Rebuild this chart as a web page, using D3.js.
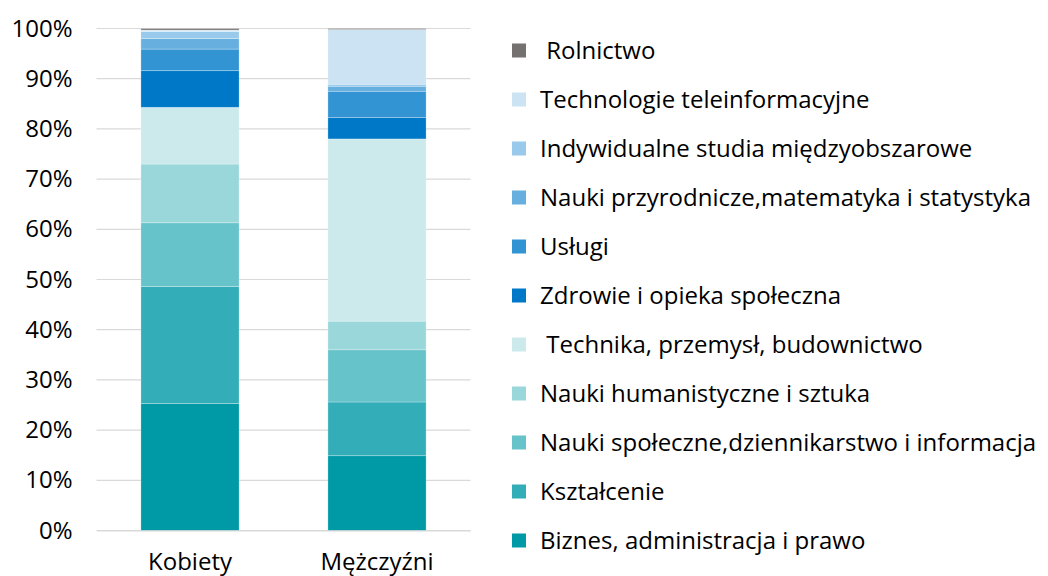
<!DOCTYPE html>
<html>
<head>
<meta charset="utf-8">
<script src="https://cdn.jsdelivr.net/npm/d3@7"></script>
<style>
  body { margin: 0; background: #fff; }
  svg text { font-family: "Open Sans", "Noto Sans", sans-serif; fill: #000; white-space: pre; }
</style>
</head>
<body>
<div id="chart"></div>
<script>
// categories on the x axis
var groups = ["Kobiety", "Mężczyźni"];

// fields of study, bottom of the stack first
var fields = [
	"Biznes, administracja i prawo",
	"Kształcenie",
	"Nauki społeczne,dziennikarstwo i informacja",
	"Nauki humanistyczne i sztuka",
	" Technika, przemysł, budownictwo",
	"Zdrowie i opieka społeczna",
	"Usługi",
	"Nauki przyrodnicze,matematyka i statystyka",
	"Indywidualne studia międzyobszarowe",
	"Technologie teleinformacyjne",
	" Rolnictwo"
];

// shares in %, same order as fields
var kobiety   = [25.3, 23.3, 12.7, 11.7, 11.3, 7.3, 4.3, 2.1, 1.4, 0.3, 0.3];
var mezczyzni = [14.9, 10.7, 10.4, 5.7, 36.3, 4.3, 5.2, 1.0, 0.4, 10.9, 0.2];

var colors = ["#009aa6", "#33aeb8", "#66c3ca", "#99d7db", "#cceaec",
              "#0078c8", "#3394d3", "#66afdf", "#99caeb", "#cce3f4", "#767171"];

var yTicks = [0, 10, 20, 30, 40, 50, 60, 70, 80, 90, 100];

var width = 1048, height = 576;
var margin = { top: 28.5, left: 96.5, right: 577.5, bottom: 45.5 };
var fontSize = "24px";

var svg = d3.select("#chart").append("svg")
	.attr("width", width)
	.attr("height", height);

// build rows for the stack
var rows = groups.map(function(g, i) {
	var vals = i === 0 ? kobiety : mezczyzni;
	var row = { group: g };
	fields.forEach(function(f, j) { row[f] = vals[j]; });
	return row;
});

var stack = d3.stack().keys(fields);
var series = stack(rows);

var x = d3.scaleBand()
	.domain(groups)
	.range([margin.left, width - margin.right])
	.paddingInner(0.475)
	.paddingOuter(0.2375);

var y = d3.scaleLinear()
	.domain([0, 100])
	.range([height - margin.bottom, margin.top]);

// gridlines
svg.append("g")
	.selectAll("line")
	.data(yTicks)
	.enter().append("line")
	.attr("x1", margin.left)
	.attr("x2", width - margin.right)
	.attr("y1", function(d) { return y(d); })
	.attr("y2", function(d) { return y(d); })
	.attr("stroke", "#d9d9d9")
	.attr("stroke-width", 1.2);

// bars
svg.append("g")
	.selectAll("g")
	.data(series)
	.enter().append("g")
	.attr("fill", function(d, i) { return colors[i]; })
	.selectAll("rect")
	.data(function(d) { return d; })
	.enter().append("rect")
	.attr("x", function(d) { return x(d.data.group); })
	.attr("width", x.bandwidth())
	.attr("y", function(d) { return y(d[1]); })
	.attr("height", function(d) { return y(d[0]) - y(d[1]); })
	.attr("stroke", "#ffffff")
	.attr("stroke-opacity", 0.35)
	.attr("stroke-width", 0.75);

// y axis labels
var yAxis = d3.axisLeft(y)
	.tickValues(yTicks)
	.tickFormat(function(d) { return d + "%"; })
	.tickSize(0)
	.tickPadding(24);

svg.append("g")
	.attr("transform", "translate(" + margin.left + ",0)")
	.call(yAxis)
	.call(function(g) { g.select(".domain").remove(); })
	.selectAll("text")
	.style("font-size", fontSize)
	.attr("fill", "#000");

// x axis
var xAxis = d3.axisBottom(x).tickSize(0).tickPadding(22);

svg.append("g")
	.attr("transform", "translate(0," + y(0) + ")")
	.call(xAxis)
	.call(function(g) { g.select(".domain").attr("stroke", "#d9d9d9").attr("stroke-width", 1.2); })
	.selectAll("text")
	.style("font-size", fontSize)
	.attr("fill", "#000");

// legend, top item = top of stack
var legend = svg.append("g");
var legendItems = legend.selectAll("g")
	.data(fields.slice().reverse())
	.enter().append("g")
	.attr("transform", function(d, i) { return "translate(512," + (50.5 + i * 49) + ")"; });

legendItems.append("rect")
	.attr("x", 0)
	.attr("y", -7)
	.attr("width", 14)
	.attr("height", 14)
	.attr("fill", function(d) { return colors[fields.indexOf(d)]; });

legendItems.append("text")
	.attr("x", 28)
	.attr("y", 0)
	.attr("dy", "0.35em")
	.style("font-size", fontSize)
	.text(function(d) { return d; });
</script>
</body>
</html>
